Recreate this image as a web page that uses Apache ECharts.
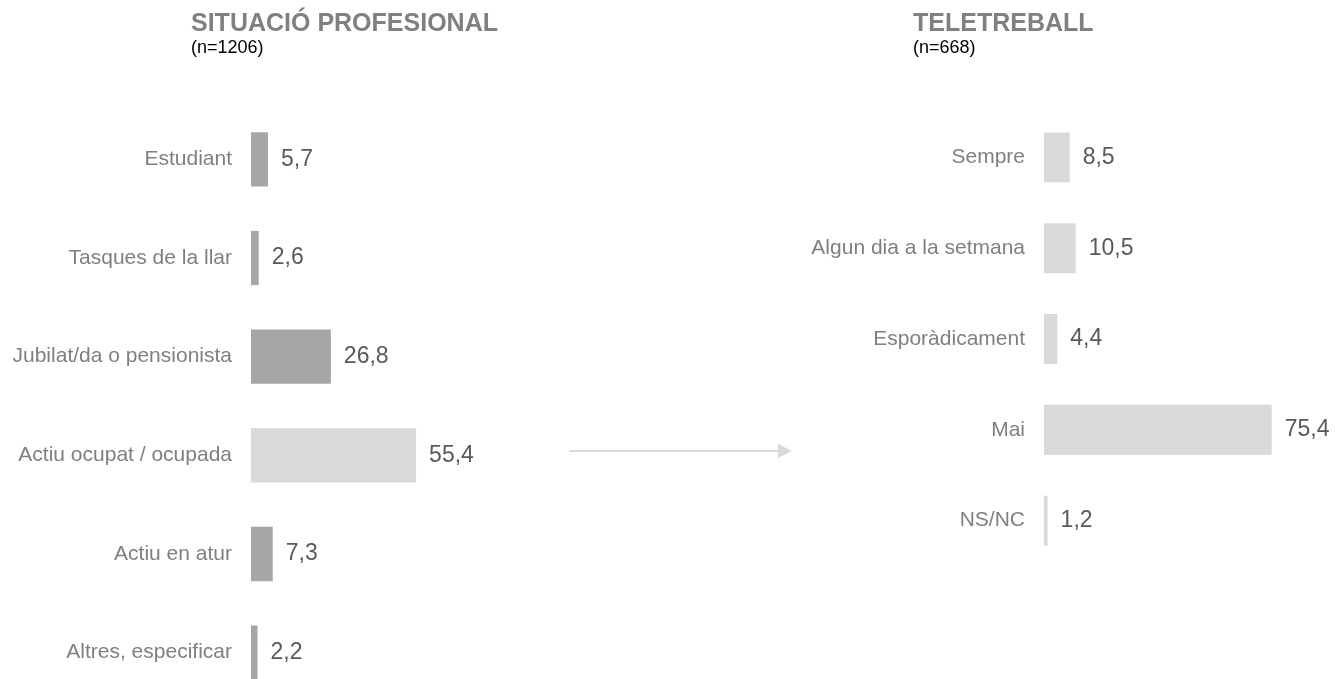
<!DOCTYPE html>
<html>
<head>
<meta charset="utf-8">
<script src="https://cdn.jsdelivr.net/npm/echarts@6/dist/echarts.min.js"></script>
<style>
  html, body { margin: 0; padding: 0; background: #ffffff; }
  #main { width: 1335px; height: 679px; }
</style>
</head>
<body>
<div id="main"></div>
<script>
// dades: situació professional (n=1206)
var situacioCats = ['Estudiant', 'Tasques de la llar', 'Jubilat/da o pensionista', 'Actiu ocupat / ocupada', 'Actiu en atur', 'Altres, especificar'];
var situacioVals = [5.7, 2.6, 26.8, 55.4, 7.3, 2.2];
// dades: teletreball (n=668)
var teleCats = ['Sempre', 'Algun dia a la setmana', 'Esporàdicament', 'Mai', 'NS/NC'];
var teleVals = [8.5, 10.5, 4.4, 75.4, 1.2];
var destacat = 'Actiu ocupat / ocupada';

var font = '"Liberation Sans", Arial, Helvetica, sans-serif';
var grisFosc = '#a6a6a6';
var grisClar = '#d9d9d9';

function fmt(p) {
  return p.value.toFixed(1).replace('.', ',');
}

var myChart = echarts.init(document.getElementById('main'));
var option = {
  backgroundColor: '#ffffff',
  animation: false,
  title: [
    {
      text: 'SITUACIÓ PROFESIONAL',
      subtext: '(n=1206)',
      left: 191, top: 12, itemGap: 2, padding: 0,
      textStyle: { fontFamily: font, fontSize: 25, fontWeight: 'bold', color: '#808080' },
      subtextStyle: { fontFamily: font, fontSize: 18, color: '#000000' }
    },
    {
      text: 'TELETREBALL',
      subtext: '(n=668)',
      left: 913, top: 12, itemGap: 2, padding: 0,
      textStyle: { fontFamily: font, fontSize: 25, fontWeight: 'bold', color: '#808080' },
      subtextStyle: { fontFamily: font, fontSize: 18, color: '#000000' }
    }
  ],
  grid: [
    { left: 251, top: 110, width: 298, height: 592, outerBoundsMode: 'none', containLabel: false },
    { left: 1044, top: 112, width: 302, height: 454, outerBoundsMode: 'none', containLabel: false }
  ],
  xAxis: [
    { gridIndex: 0, type: 'value', min: 0, max: 100, show: false },
    { gridIndex: 1, type: 'value', min: 0, max: 100, show: false }
  ],
  yAxis: [
    {
      gridIndex: 0, type: 'category', inverse: true, data: situacioCats,
      axisLine: { show: false }, axisTick: { show: false }, splitLine: { show: false },
      axisLabel: { margin: 19, fontFamily: font, fontSize: 21, color: '#7f7f7f' }
    },
    {
      gridIndex: 1, type: 'category', inverse: true, data: teleCats,
      axisLine: { show: false }, axisTick: { show: false }, splitLine: { show: false },
      axisLabel: { margin: 19, fontFamily: font, fontSize: 21, color: '#7f7f7f' }
    }
  ],
  series: [
    {
      type: 'bar', xAxisIndex: 0, yAxisIndex: 0, barWidth: '55%',
      data: situacioVals.map(function (v, i) {
        return { value: v, itemStyle: { color: situacioCats[i] === destacat ? grisClar : grisFosc } };
      }),
      label: {
        show: true, position: 'right', distance: 13, formatter: fmt,
        fontFamily: font, fontSize: 23, color: '#595959'
      }
    },
    {
      type: 'bar', xAxisIndex: 1, yAxisIndex: 1, barWidth: '55%',
      data: teleVals,
      itemStyle: { color: grisClar },
      label: {
        show: true, position: 'right', distance: 13, formatter: fmt,
        fontFamily: font, fontSize: 23, color: '#595959'
      }
    }
  ],
  graphic: [
    {
      type: 'line',
      shape: { x1: 569, y1: 451, x2: 780, y2: 451 },
      style: { stroke: grisClar, lineWidth: 2 }
    },
    {
      type: 'polygon',
      shape: { points: [[778, 444], [792, 451], [778, 458]] },
      style: { fill: grisClar }
    }
  ]
};
myChart.setOption(option);
</script>
</body>
</html>
